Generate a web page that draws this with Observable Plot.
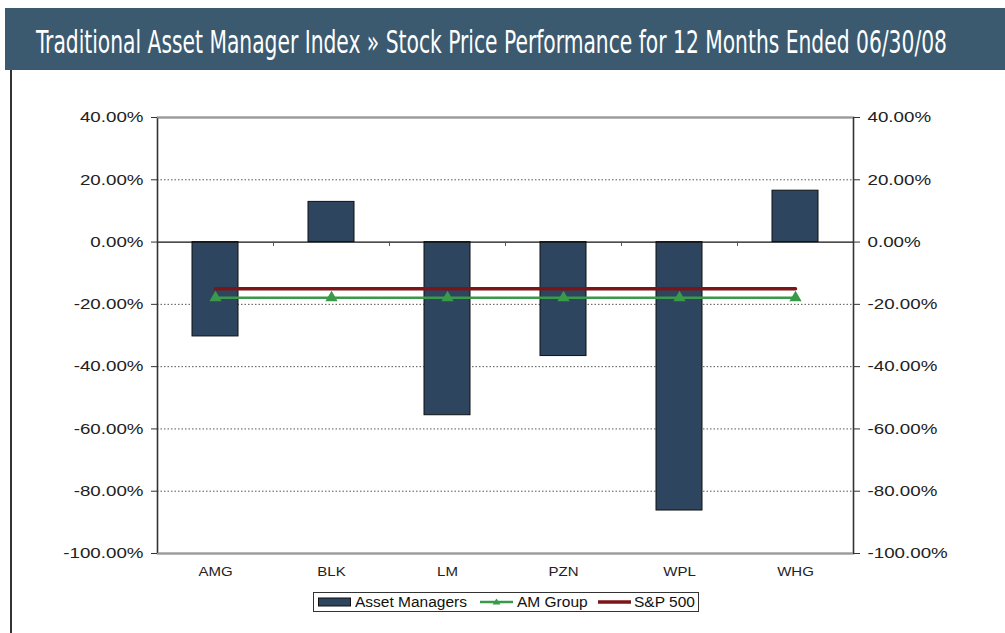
<!DOCTYPE html>
<html>
<head>
<meta charset="utf-8">
<script src="https://cdn.jsdelivr.net/npm/d3@7"></script>
<script src="https://cdn.jsdelivr.net/npm/@observablehq/plot@0.6"></script>
<style>
  html, body { margin: 0; padding: 0; background: #fff; }
  #page { position: relative; width: 1005px; height: 633px; overflow: hidden; background: #fff; }
  #hdr { position: absolute; left: 5px; top: 8px; width: 1000px; height: 62px; background: #3b5a70; }
  #ttl { position: absolute; left: 31px; top: 18px; font-size: 32px; line-height: 32px;
         font-family: "Liberation Sans Narrow", "DejaVu Sans Condensed", "Liberation Sans", sans-serif;
         color: #fff; white-space: nowrap; transform-origin: 0 0; }
  #lborder { position: absolute; left: 10px; top: 70px; width: 2px; height: 563px; background: #333; }
  #chart { position: absolute; left: 0; top: 75px; }
  #legend { position: absolute; left: 313px; top: 592px; width: 386px; height: 20px; box-sizing: border-box;
            border: 1px solid #333; background: #fff; font-family: "Liberation Sans", Arial, sans-serif; font-size: 15.5px; color: #111; }
  #legend .it { position: absolute; top: 0; line-height: 18px; white-space: nowrap; }
</style>
</head>
<body>
<div id="page">
  <div id="hdr"><span id="ttl">Traditional Asset Manager Index » Stock Price Performance for 12 Months Ended 06/30/08</span></div>
  <div id="lborder"></div>
  <div id="chart"></div>
  <div id="legend"></div>
</div>
<script>
// ---- data ----
const tickers = ["AMG", "BLK", "LM", "PZN", "WPL", "WHG"];
const assetManagers = [-30.3, 12.9, -55.6, -36.6, -86.2, 16.5];
const amGroup = [-17.9, -17.9, -17.9, -17.9, -17.9, -17.9];
const sp500 = [-15.0, -15.0, -15.0, -15.0, -15.0, -15.0];
const yTicks = [40, 20, 0, -20, -40, -60, -80, -100];
const gridTicks = [20, -20, -40, -60, -80];
const seriesNames = ["Asset Managers", "AM Group", "S&P 500"];

const barColor = "#2e4560";
const greenColor = "#3a9a4a";
const redColor = "#7c1517";

const rows = tickers.map((t, i) => ({ticker: t, am: assetManagers[i], grp: amGroup[i], spx: sp500[i]}));
const fmt = d => d.toFixed(2) + "%";

const W = 1005, H = 510, mL = 157, mR = 152;
const step = (W - mL - mR) / tickers.length;

const plot = Plot.plot({
  width: W, height: H,
  marginTop: 42, marginBottom: 32, marginLeft: mL, marginRight: mR,
  style: {fontFamily: "'Liberation Sans', Arial, sans-serif", fontSize: "15px", color: "#222", background: "transparent"},
  x: {domain: tickers, paddingInner: 0.6, paddingOuter: 0.3, label: null},
  y: {domain: [-100, 40], label: null},
  marks: [
    Plot.ruleY(gridTicks, {stroke: "#555", strokeWidth: 1, strokeDasharray: "1.5,2"}),
    Plot.barY(rows, {x: "ticker", y: "am", fill: barColor, stroke: "#111", strokeWidth: 1}),
    Plot.ruleY([0], {stroke: "#111", strokeWidth: 1.3}),
    Plot.ruleX(tickers.slice(1), {x: d => d, y1: 0, y2: -1.4, dx: -step / 2, stroke: "#555", strokeWidth: 1}),
    Plot.frame({stroke: "#333", strokeWidth: 1.6}),
    Plot.ruleY([40, -100], {stroke: "#9a9a9a", strokeWidth: 1.5}),
    Plot.lineY(rows, {x: "ticker", y: "spx", stroke: redColor, strokeWidth: 3.5}),
    Plot.lineY(rows, {x: "ticker", y: "grp", stroke: greenColor, strokeWidth: 2.5}),
    Plot.dot(rows, {x: "ticker", y: "grp", symbol: "triangle", r: 3.6, fill: greenColor, stroke: greenColor}),
    Plot.axisY({anchor: "left", ticks: yTicks, tickFormat: fmt, tickSize: 6, tickPadding: 8, stroke: "#333", fontSize: 15}),
    Plot.axisY({anchor: "right", ticks: yTicks, tickFormat: fmt, tickSize: 6, tickPadding: 8, stroke: "#333", fontSize: 15}),
    Plot.axisX({anchor: "bottom", tickSize: 0, tickPadding: 14, fontSize: 12})
  ]
});

// horizontal stretch of tick labels (reference text is wider than tall)
plot.querySelectorAll("text").forEach(t => {
  t.setAttribute("transform", (t.getAttribute("transform") || "") + " scale(1.25,1)");
});
document.getElementById("chart").appendChild(plot);

// title fit
const ttl = document.getElementById("ttl");
const tw = ttl.getBoundingClientRect().width;
ttl.style.transform = `scaleX(${911 / tw})`;

// legend
const lg = document.getElementById("legend");
function sw(left, html) {
  const d = document.createElement("div");
  d.className = "it"; d.style.left = left + "px"; d.innerHTML = html; lg.appendChild(d); return d;
}
sw(4, `<svg width="33" height="18"><rect x="0.5" y="5" width="32" height="8" fill="${barColor}" stroke="#111"/></svg>`);
sw(41, seriesNames[0]);
sw(166, `<svg width="33" height="18"><line x1="0" x2="33" y1="9" y2="9" stroke="${greenColor}" stroke-width="2.5"/><path d="M16.5,5.5 L20.5,11.5 L12.5,11.5 Z" fill="${greenColor}"/></svg>`);
sw(203, seriesNames[1]);
sw(284, `<svg width="33" height="18"><line x1="0" x2="33" y1="9" y2="9" stroke="${redColor}" stroke-width="3.5"/></svg>`);
sw(320, seriesNames[2]);
</script>
</body>
</html>
